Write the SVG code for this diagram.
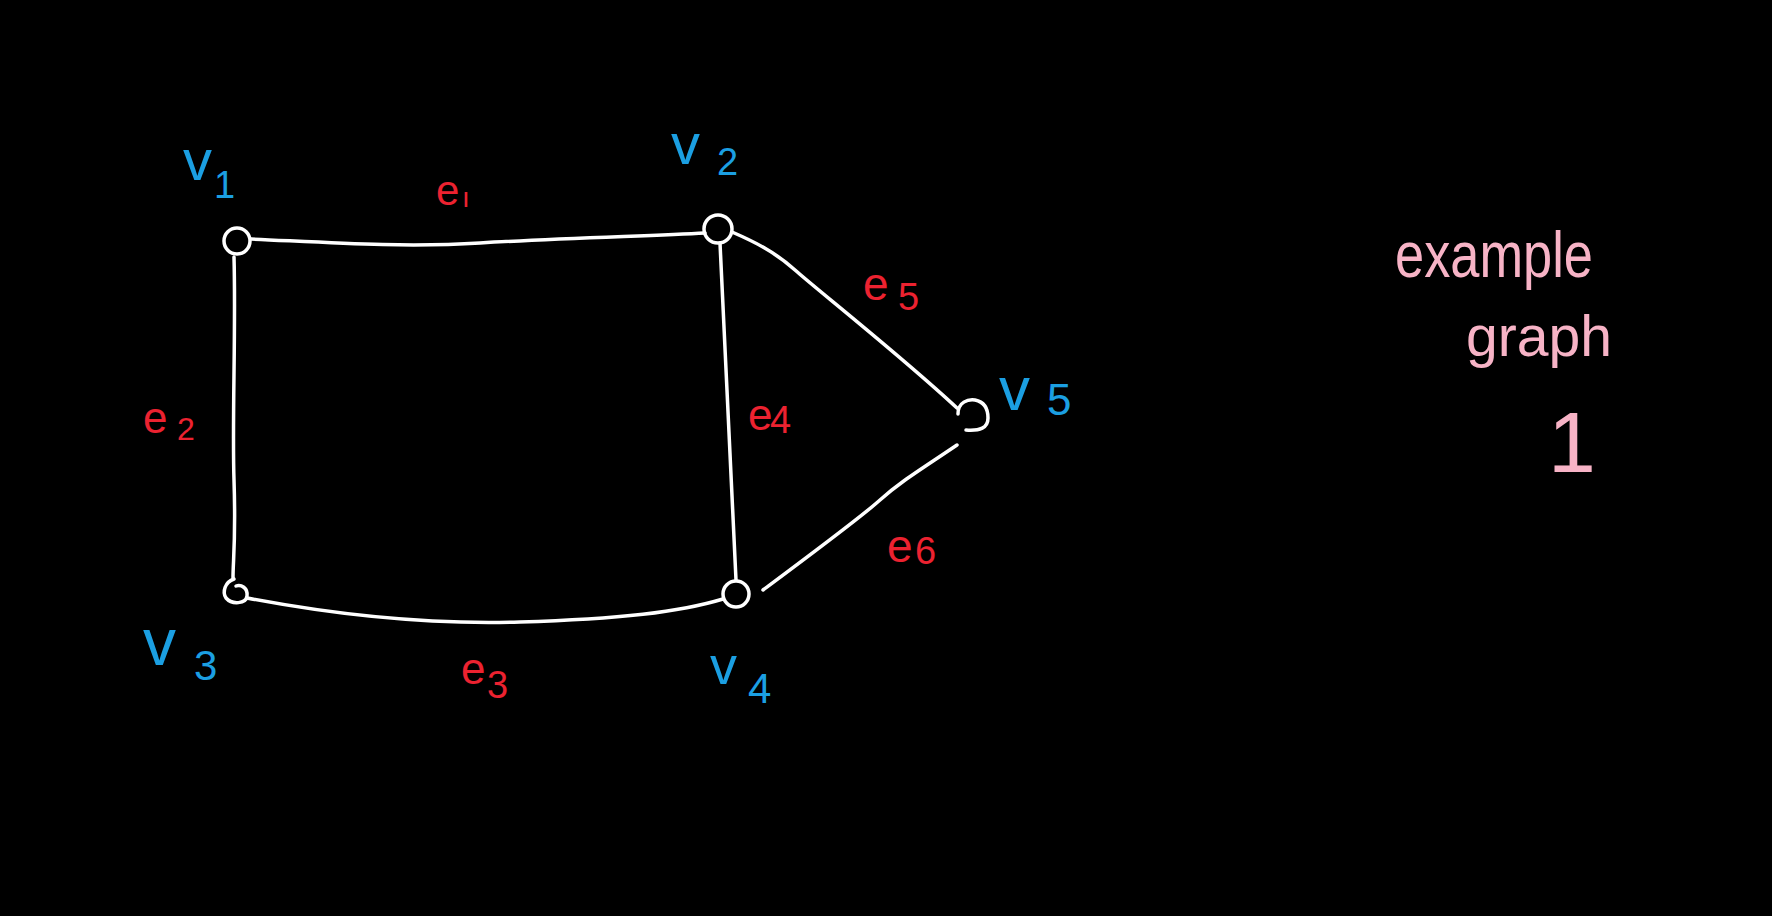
<svg xmlns="http://www.w3.org/2000/svg" width="1772" height="916" viewBox="0 0 1772 916">
<style>
.edge{fill:none;stroke:#fff;stroke-width:3.5;stroke-linecap:round;stroke-linejoin:round}
.node{fill:none;stroke:#fff;stroke-width:3.5;stroke-linecap:round}
.vl{fill:#1b9fe2;font-family:"Liberation Sans",Arial,sans-serif}
.el{fill:#ec2230;font-family:"Liberation Sans",Arial,sans-serif}
.note{fill:#f7b3c6;font-family:"Liberation Sans",Arial,sans-serif}
</style>
<rect width="1772" height="916" fill="#000"/>
<g id="connectors">
<path class="edge" d="M251,239 C320,242 400,248 480,243 S650,236 705,233"/>
<path class="edge" d="M234,257 C236,330 232,420 234,480 S233,560 233,578"/>
<path class="edge" d="M247,598 C320,612 420,625 520,622 S680,612 723,599"/>
<path class="edge" d="M720,243 L736,580"/>
<path class="edge" d="M732,232 C755,242 775,252 795,270 S900,355 957,408"/>
<path class="edge" d="M957,445 C920,470 900,482 880,500 S810,555 763,590"/>
</g>
<g id="v1"><circle class="node" cx="237" cy="241" r="13"/><text class="vl" x="183" y="180" font-size="58">v</text><text class="vl" x="214" y="198" font-size="38">1</text></g>
<g id="v2"><circle class="node" cx="718" cy="229" r="14"/><text class="vl" x="671" y="164" font-size="58">v</text><text class="vl" x="717" y="175" font-size="38">2</text></g>
<g id="v3"><path class="node" d="M234,579 C225,582 222,592 226,598 C232,605 246,604 247,596 C248,588 241,584 236,586"/><text class="vl" x="143" y="665" font-size="66">v</text><text class="vl" x="194" y="680" font-size="42">3</text></g>
<g id="v4"><circle class="node" cx="736" cy="594" r="13"/><text class="vl" x="710" y="684" font-size="54">v</text><text class="vl" x="748" y="703" font-size="42">4</text></g>
<g id="v5"><path class="node" d="M958,414 C958,402 968,399 975,400 C985,402 988,410 988,418 C988,428 980,431 966,430"/><text class="vl" x="999" y="410" font-size="62">v</text><text class="vl" x="1047" y="415" font-size="44">5</text></g>
<g id="e1"><text class="el" x="436" y="205" font-size="42">e</text><text class="el" x="462" y="207" font-size="28">ı</text></g>
<g id="e2"><text class="el" x="143" y="433" font-size="44">e</text><text class="el" x="177" y="440" font-size="32">2</text></g>
<g id="e3"><text class="el" x="461" y="684" font-size="44">e</text><text class="el" x="487" y="698" font-size="38">3</text></g>
<g id="e4"><text class="el" x="748" y="430" font-size="44">e</text><text class="el" x="770" y="433" font-size="38">4</text></g>
<g id="e5"><text class="el" x="863" y="300" font-size="46">e</text><text class="el" x="898" y="310" font-size="38">5</text></g>
<g id="e6"><text class="el" x="887" y="562" font-size="46">e</text><text class="el" x="915" y="564" font-size="38">6</text></g>
<g id="caption">
<text class="note" x="1395" y="277" font-size="64" textLength="198" lengthAdjust="spacingAndGlyphs">example</text>
<text class="note" x="1466" y="356" font-size="58" textLength="146" lengthAdjust="spacingAndGlyphs">graph</text>
<text class="note" x="1548" y="472" font-size="86">1</text>
</g>
</svg>
